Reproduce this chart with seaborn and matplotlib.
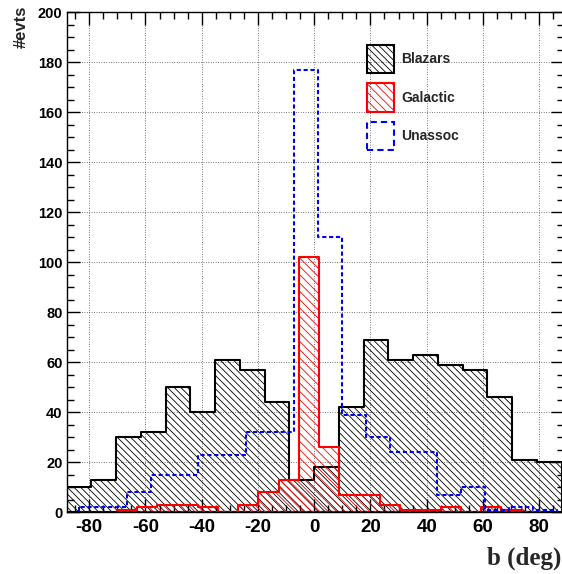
import numpy as np
import pandas as pd
import seaborn as sns
import matplotlib.pyplot as plt
from matplotlib.ticker import MultipleLocator

# ============================================================
# Data (counts per bin, b in degrees)
# ============================================================

# Blazars: 20 bins from -88 to 88
blazar_edges = np.linspace(-88.0, 88.0, 21)
blazar_counts = [10, 13, 30, 32, 50, 40, 61, 57, 44, 13,
                 18, 42, 69, 61, 63, 59, 57, 46, 21, 20]

# Galactic: 21 bins of 7.2 deg starting at -70.2
galactic_edges = np.linspace(-70.2, 81.0, 22)
galactic_counts = [1, 2, 3, 3, 2, 0, 3, 8, 13, 102, 26,
                   7, 7, 3, 1, 1, 2, 0, 2, 1, 0]

# Unassociated: 20 bins of 8.5 deg starting at -83.7
unassoc_edges = np.linspace(-83.7, 86.3, 21)
unassoc_counts = [2, 2, 8, 15, 15, 23, 23, 32, 32, 177,
                  110, 39, 30, 24, 24, 7, 10, 1, 2, 1]

x_ticks = [-80, -60, -40, -20, 0, 20, 40, 60, 80]


def to_frame(edges, counts):
    centers = 0.5 * (edges[:-1] + edges[1:])
    return pd.DataFrame({"b": centers, "n": counts})


df_blz = to_frame(blazar_edges, blazar_counts)
df_gal = to_frame(galactic_edges, galactic_counts)
df_una = to_frame(unassoc_edges, unassoc_counts)

# ============================================================
# Style
# ============================================================

sns.set_style("ticks")
plt.rcParams["font.family"] = ["Liberation Sans", "DejaVu Sans"]
plt.rcParams["font.weight"] = "bold"
plt.rcParams["axes.unicode_minus"] = False
plt.rcParams["hatch.linewidth"] = 0.6
plt.rcParams["axes.edgecolor"] = "black"
plt.rcParams["xtick.color"] = "black"
plt.rcParams["ytick.color"] = "black"

fig = plt.figure(figsize=(5.62, 5.74), dpi=100)
ax = fig.add_axes([66.7 / 562, 1 - 512.3 / 574, 497.2 / 562, 500 / 574])

# ============================================================
# Histograms
# ============================================================

plt.rcParams["hatch.color"] = "black"
sns.histplot(data=df_blz, x="b", weights="n", bins=list(blazar_edges),
             element="step", fill=True, color="black", facecolor="none",
             edgecolor="black", hatch="\\" * 5, linewidth=1.5,
             label="Blazars", ax=ax)

plt.rcParams["hatch.color"] = "red"
sns.histplot(data=df_gal, x="b", weights="n", bins=list(galactic_edges),
             element="step", fill=True, color="red", facecolor="none",
             edgecolor="red", hatch="\\" * 4, linewidth=1.5,
             label="Galactic", ax=ax)

sns.histplot(data=df_una, x="b", weights="n", bins=list(unassoc_edges),
             element="step", fill=True, color="blue", facecolor="none",
             edgecolor="blue", linestyle=(0, (2, 1.3)), linewidth=1.5,
             label="Unassoc", ax=ax)

# ============================================================
# Axes
# ============================================================

ax.set_xlim(-88, 88.8)
ax.set_ylim(0, 200)
ax.set_xticks(x_ticks)
ax.xaxis.set_minor_locator(MultipleLocator(5))
ax.yaxis.set_major_locator(MultipleLocator(20))
ax.yaxis.set_minor_locator(MultipleLocator(5))
ax.set_xlabel("")
ax.set_ylabel("")

ax.grid(True, which="major", color="black", linestyle=(0, (1, 2.5)), linewidth=0.5)
ax.set_axisbelow(True)

ax.tick_params(which="both", direction="in", top=True, right=True, width=1)
ax.tick_params(which="major", length=9.5)
ax.tick_params(which="minor", length=5)
ax.tick_params(axis="x", labelsize=13.5, pad=5)
ax.tick_params(axis="y", labelsize=10.5, pad=3)
for sp in ax.spines.values():
    sp.set_linewidth(1.0)

ax.legend(loc="upper left", bbox_to_anchor=(366.7 / 562, 1 - 45 / 574),
          bbox_transform=fig.transFigure, frameon=False, borderpad=0,
          borderaxespad=0, handlelength=2.0, handleheight=2.73,
          labelspacing=0.75, handletextpad=0.5,
          prop={"weight": "bold", "size": 10})

fig.text(21 / 562, 1 - 27 / 574, "#evts", rotation=90, ha="center",
         va="center", fontsize=12, fontweight="bold")
fig.text(561 / 562, 1 - 558 / 574, "b (deg)", ha="right", va="center",
         fontsize=18, fontweight="bold", family=["Liberation Serif"])

fig.savefig("out.png", dpi=100)
